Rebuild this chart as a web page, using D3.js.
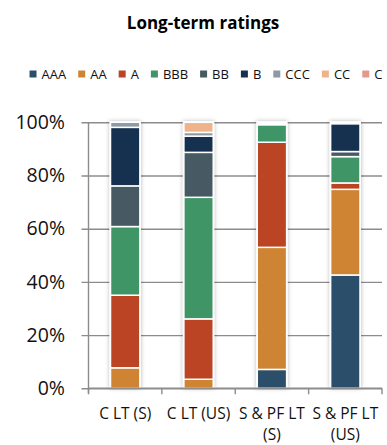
<!DOCTYPE html>
<html>
<head>
<meta charset="utf-8">
<script src="https://cdn.jsdelivr.net/npm/d3@7"></script>
<style>
  body { margin: 0; background: #fff; }
  svg { font-family: 'Open Sans', sans-serif; }
</style>
</head>
<body>
<div id="graf"></div>
<script>
// data (percent of each column)
const categories = ['C LT (S)', 'C LT (US)', 'S & PF LT (S)', 'S & PF LT (US)']
const ratings = ['AAA', 'AA', 'A', 'BBB', 'BB', 'B', 'CCC', 'CC', 'C']
const AAA = [0, 0, 7.1, 42.6]
const AA = [7.7, 3.4, 45.9, 32.2]
const A = [27.3, 22.7, 39.5, 2.4]
const BBB = [25.8, 45.7, 6.5, 9.9]
const BB = [15.3, 16.9, 0, 1.9]
const B = [22.0, 6.1, 0, 10.4]
const CCC = [1.9, 1.4, 0, 0]
const CC = [0, 3.8, 0, 0]
const C = [0, 0, 0, 0]
const yTicks = [0, 20, 40, 60, 80, 100]
const colores = ['#2b4f6b', '#cf8434', '#bb4425', '#3f9565', '#475a63', '#15314f', '#8d9aa6', '#efb38c', '#e39a8c']

const series = { AAA, AA, A, BBB, BB, B, CCC, CC, C }
const tabla = categories.map((cat, i) => {
  const row = { cat }
  ratings.forEach(r => { row[r] = series[r][i] })
  return row
})

const anchoTotal = 387
const altoTotal = 445
const margin = { top: 122.3, right: 5, bottom: 56.7, left: 88.5 }
const ancho = anchoTotal - margin.left - margin.right
const alto = altoTotal - margin.top - margin.bottom

const svg = d3.select('#graf')
  .append('svg')
  .attr('width', anchoTotal)
  .attr('height', altoTotal)

const defs = svg.append('defs')
defs.append('filter')
  .attr('id', 'sombra')
  .attr('x', '-50%').attr('y', '-10%')
  .attr('width', '200%').attr('height', '120%')
  .append('feDropShadow')
  .attr('dx', 0).attr('dy', 0)
  .attr('stdDeviation', 2)
  .attr('flood-color', '#000')
  .attr('flood-opacity', 0.3)

svg.append('text')
  .attr('x', 203)
  .attr('y', 29)
  .attr('text-anchor', 'middle')
  .attr('font-weight', 'bold')
  .attr('font-size', 17)
  .attr('fill', '#000')
  .text('Long-term ratings')

const g = svg.append('g')
  .attr('transform', `translate(${margin.left}, ${margin.top})`)

const y = d3.scaleLinear().domain([0, 100]).range([alto, 0])
const celda = d3.scaleBand().domain(categories).range([0, ancho]).padding(0)
const x = d3.scaleBand().domain(categories).range([0, ancho])
  .paddingInner(0.6).paddingOuter(0.3)
const color = d3.scaleOrdinal().domain(ratings).range(colores)

// gridlines + y axis
g.append('g')
  .attr('class', 'ejes')
  .call(d3.axisLeft(y).tickValues(yTicks).tickSize(-ancho).tickFormat(d => d + '%'))
  .call(a => a.select('.domain').remove())
  .call(a => a.selectAll('.tick line').attr('stroke', '#8c8c8c').attr('stroke-width', 1.4).attr('x1', -7))
  .call(a => a.selectAll('.tick text')
    .attr('x', -23.5)
    .attr('font-size', 19.5)
    .attr('font-family', "'Open Sans', sans-serif")
    .attr('fill', '#111'))

g.append('line')
  .attr('x1', 0).attr('x2', 0)
  .attr('y1', 0).attr('y2', alto + 5)
  .attr('stroke', '#8c8c8c').attr('stroke-width', 1.4)

// bars
const stack = d3.stack().keys(ratings)(tabla)

g.append('g')
  .selectAll('rect')
  .data(categories)
  .join('rect')
  .attr('x', d => x(d) - 1)
  .attr('y', y(100) - 1)
  .attr('width', x.bandwidth() + 2)
  .attr('height', y(0) - y(100) + 1)
  .attr('fill', '#fff')
  .attr('filter', 'url(#sombra)')

g.append('g')
  .selectAll('g')
  .data(stack)
  .join('g')
  .attr('fill', d => color(d.key))
  .selectAll('rect')
  .data(d => d.filter(p => p[1] - p[0] > 0))
  .join('rect')
  .attr('x', d => x(d.data.cat))
  .attr('y', d => y(d[1]))
  .attr('width', x.bandwidth())
  .attr('height', d => y(d[0]) - y(d[1]))
  .attr('stroke', '#fff')
  .attr('stroke-width', 1.5)

// x axis line with ticks at cell borders
g.append('line')
  .attr('x1', 0).attr('x2', ancho)
  .attr('y1', alto).attr('y2', alto)
  .attr('stroke', '#8c8c8c').attr('stroke-width', 1.4)

const bordes = categories.map(c => celda(c)).concat([ancho])
g.append('g')
  .selectAll('line')
  .data(bordes)
  .join('line')
  .attr('x1', d => d).attr('x2', d => d)
  .attr('y1', alto).attr('y2', alto + 6)
  .attr('stroke', '#8c8c8c').attr('stroke-width', 1.4)

const etiquetas = g.append('g')
  .selectAll('text')
  .data(categories)
  .join('text')
  .attr('x', d => celda(d) + celda.bandwidth() / 2)
  .attr('y', alto + 31)
  .attr('text-anchor', 'middle')
  .attr('font-size', 15.5)
  .attr('fill', '#111')

etiquetas.each(function (d) {
  const t = d3.select(this)
  const palabras = d.split(' ')
  let tspan = t.append('tspan').attr('x', t.attr('x'))
  let lineas = [[]]
  palabras.forEach(p => {
    lineas[lineas.length - 1].push(p)
    tspan.text(lineas[lineas.length - 1].join(' '))
    if (tspan.node().getComputedTextLength() > celda.bandwidth() + 1 && lineas[lineas.length - 1].length > 1) {
      lineas[lineas.length - 1].pop()
      tspan.text(lineas[lineas.length - 1].join(' '))
      lineas.push([p])
      tspan = t.append('tspan').attr('x', t.attr('x')).attr('dy', 21).text(p)
    }
  })
})

// legend
const leyenda = svg.append('g').attr('transform', 'translate(0, 74)')
let posX = 0
ratings.forEach(r => {
  const item = leyenda.append('g')
  item.append('rect')
    .attr('x', 0).attr('y', -3.5)
    .attr('width', 7).attr('height', 7)
    .attr('fill', color(r))
  const txt = item.append('text')
    .attr('x', 12)
    .attr('dy', '0.35em')
    .attr('font-size', 13)
    .attr('fill', '#111')
    .text(r)
  const w = 12 + txt.node().getComputedTextLength()
  item.attr('transform', `translate(${posX}, 0)`)
  posX += w + 12
})
const anchoLeyenda = posX - 12
leyenda.attr('transform', `translate(${206 - anchoLeyenda / 2}, 74)`)
</script>
</body>
</html>
